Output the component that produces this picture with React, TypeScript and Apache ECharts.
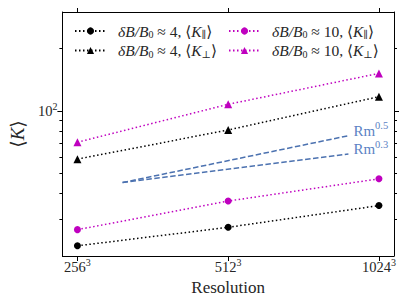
import React, { useEffect, useRef } from "react";
import * as echarts from "echarts";

const resolutions = [256, 512, 1024];
const xTickLabels: Record<number, string> = { 256: "{n|256}{s|3}", 512: "{n|512}{s|3}", 1024: "{n|1024}{s|3}" };
const yTickLabel = "{n|10}{s|2}";
const k4Par = [22.4, 27.5, 35.0];
const k10Par = [26.8, 36.8, 47.1];
const k4Perp = [58.6, 81.0, 117.2];
const k10Perp = [70.7, 107.7, 151.8];
const rmX = [315, 890];
const rm05 = [45.2, 76.0];
const rm03 = [45.2, 62.0];
const yMajorTicks = [100];
const yMinorTicks = [30, 40, 50, 60, 70, 80, 90, 200];

const FONT = "Times New Roman, Liberation Serif, DejaVu Serif, serif";
const MAG = "#bf00bf";
const BLUE = "#4c72b0";
const TXT = "#262626";

const pairs = (xs: number[], ys: number[]) => xs.map((x, i) => [x, ys[i]]);

const legendNames: Record<string, string> = {
  p4: "{i|δB/B}{sub|0}{t| ≈ 4, ⟨}{i|K}{sub|∥}{t|⟩}",
  p10: "{i|δB/B}{sub|0}{t| ≈ 10, ⟨}{i|K}{sub|∥}{t|⟩}",
  q4: "{i|δB/B}{sub|0}{t| ≈ 4, ⟨}{i|K}{sub|⊥}{t|⟩}",
  q10: "{i|δB/B}{sub|0}{t| ≈ 10, ⟨}{i|K}{sub|⊥}{t|⟩}",
};

const richText = {
  i: { fontFamily: FONT, fontStyle: "italic", fontSize: 15.5, color: TXT },
  t: { fontFamily: FONT, fontSize: 15.5, color: TXT },
  sub: { fontFamily: FONT, fontSize: 10, color: TXT, padding: [7, 0, 0, 0] },
};

const tickRich = {
  n: { fontFamily: FONT, fontSize: 14.5, color: TXT },
  s: { fontFamily: FONT, fontSize: 10, color: TXT, padding: [0, 0, 9, 0] },
};

export default function App() {
  const ref = useRef<HTMLDivElement>(null);
  useEffect(() => {
    if (!ref.current) return;
    const chart = echarts.init(ref.current, null, { renderer: "svg" });
    const dotted = [1.5, 2.5];
    const mkSeries = (name: string, data: number[], color: string, symbol: string) => ({
      name,
      type: "line",
      data: pairs(resolutions, data),
      xAxisIndex: 0,
      yAxisIndex: 0,
      symbol,
      symbolSize: symbol === "circle" ? 7 : 8,
      itemStyle: { color },
      lineStyle: { color, width: 1.5, type: dotted },
      z: 3,
    });
    const mkLegend = (name: string, left: number, top: number) => ({
      data: [name],
      left,
      top,
      padding: 0,
      itemWidth: 31,
      itemHeight: 9,
      itemGap: 0,
      selectedMode: false,
      formatter: (n: string) => legendNames[n],
      textStyle: { fontFamily: FONT, rich: richText, padding: [0, 0, 0, 7] },
    });
    const axisLine = { show: true, lineStyle: { color: "#000", width: 1 } };
    const mkY = (position: string, ticks: number[], len: number, showLabel: boolean, showLine: boolean, name?: boolean) => ({
      type: "log",
      position,
      min: 20,
      max: 300,
      logBase: 10,
      axisLine: { ...axisLine, show: showLine },
      splitLine: { show: false },
      axisTick: { show: true, inside: false, length: len, customValues: ticks, lineStyle: { color: "#000", width: 1 } },
      axisLabel: {
        show: showLabel,
        customValues: ticks,
        formatter: () => yTickLabel,
        rich: tickRich,
        fontFamily: FONT,
        color: TXT,
        margin: 5,
      },
      ...(name
        ? {
            name: "⟨{k|K}⟩",
            nameLocation: "middle",
            nameGap: 29,
            nameTextStyle: {
              fontFamily: FONT,
              fontSize: 19,
              color: TXT,
              rich: { k: { fontFamily: FONT, fontSize: 19, fontStyle: "italic", color: TXT } },
            },
          }
        : {}),
    });
    const mkX = (position: string, showLabel: boolean, name?: boolean) => ({
      type: "log",
      logBase: 2,
      position,
      min: 238.9,
      max: 1097.5,
      axisLine,
      splitLine: { show: false },
      axisTick: { show: true, inside: false, length: 5, customValues: resolutions, lineStyle: { color: "#000", width: 1 } },
      axisLabel: {
        show: showLabel,
        customValues: resolutions,
        formatter: (v: number) => xTickLabels[Math.round(v)] ?? "",
        rich: tickRich,
        fontFamily: FONT,
        color: TXT,
        margin: 1,
      },
      ...(name
        ? {
            name: "Resolution",
            nameLocation: "middle",
            nameGap: 19,
            nameTextStyle: { fontFamily: FONT, fontSize: 17, color: TXT },
          }
        : {}),
    });
    const mkRm = (name: string, ys: number[], txt: string) => ({
      name,
      type: "line",
      data: pairs(rmX, ys),
      symbol: "none",
      lineStyle: { color: BLUE, width: 1.5, type: [5.5, 2.5] },
      endLabel: {
        show: true,
        distance: 5,
        offset: [0, -5],
        formatter: `{r|Rm}{s|${txt}}`,
        rich: {
          r: { fontFamily: FONT, fontSize: 15, color: "#5b82c4" },
          s: { fontFamily: FONT, fontSize: 10.5, color: "#5b82c4", padding: [0, 0, 10, 0] },
        },
      },
      z: 2,
    });
    chart.setOption({
      animation: false,
      backgroundColor: "#fff",
      textStyle: { fontFamily: FONT },
      grid: { left: 55, right: 13, top: 12, bottom: 49 },
      legend: [
        mkLegend("p4", 74, 23),
        mkLegend("p10", 228, 23),
        mkLegend("q4", 74, 42.5),
        mkLegend("q10", 228, 42.5),
      ],
      xAxis: [mkX("bottom", true, true), mkX("top", false)],
      yAxis: [
        mkY("left", yMajorTicks, 5, true, true, true),
        mkY("left", yMinorTicks, 3, false, false),
        mkY("right", yMajorTicks, 5, false, true),
        mkY("right", yMinorTicks, 3, false, false),
      ],
      series: [
        mkSeries("p4", k4Par, "#000", "circle"),
        mkSeries("p10", k10Par, MAG, "circle"),
        mkSeries("q4", k4Perp, "#000", "triangle"),
        mkSeries("q10", k10Perp, MAG, "triangle"),
        mkRm("rm05", rm05, "0.5"),
        mkRm("rm03", rm03, "0.3"),
      ],
    });
    return () => chart.dispose();
  }, []);
  return <div ref={ref} style={{ width: 407, height: 305, marginLeft: -8, marginTop: -8 }} />;
}
